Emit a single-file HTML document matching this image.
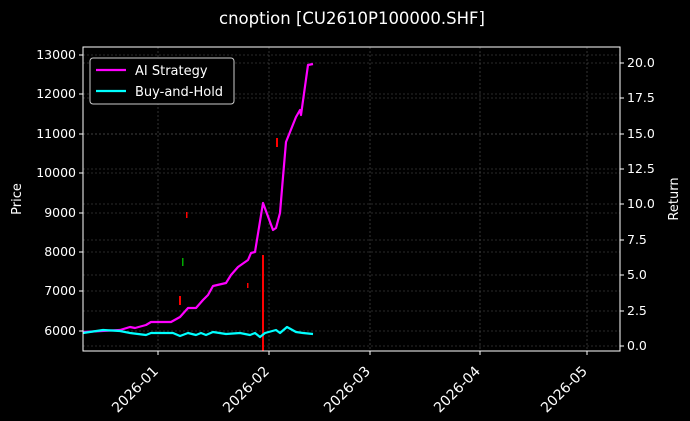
<!DOCTYPE html>
<html><head><meta charset="utf-8"><style>
html,body{margin:0;padding:0;background:#000;}
svg{display:block;font-family:"DejaVu Sans","Liberation Sans",sans-serif;}
</style></head><body>
<svg width="690" height="421" viewBox="0 0 690 421" xmlns="http://www.w3.org/2000/svg">
<rect width="690" height="421" fill="#000"/>
<text x="352" y="24" fill="#fff" font-size="16.5" text-anchor="middle">cnoption [CU2610P100000.SHF]</text>
<g stroke="#555" stroke-width="0.6" stroke-dasharray="2,2">
<line x1="158" y1="47" x2="158" y2="351"/><line x1="269" y1="47" x2="269" y2="351"/><line x1="370" y1="47" x2="370" y2="351"/><line x1="480" y1="47" x2="480" y2="351"/><line x1="587" y1="47" x2="587" y2="351"/>
<line x1="83" y1="55" x2="620" y2="55"/><line x1="83" y1="94" x2="620" y2="94"/><line x1="83" y1="134" x2="620" y2="134"/><line x1="83" y1="173" x2="620" y2="173"/><line x1="83" y1="213" x2="620" y2="213"/><line x1="83" y1="252" x2="620" y2="252"/><line x1="83" y1="291" x2="620" y2="291"/><line x1="83" y1="331" x2="620" y2="331"/>
<line x1="83" y1="63" x2="620" y2="63"/><line x1="83" y1="98" x2="620" y2="98"/><line x1="83" y1="134" x2="620" y2="134"/><line x1="83" y1="169" x2="620" y2="169"/><line x1="83" y1="204" x2="620" y2="204"/><line x1="83" y1="240" x2="620" y2="240"/><line x1="83" y1="275" x2="620" y2="275"/><line x1="83" y1="311" x2="620" y2="311"/><line x1="83" y1="346" x2="620" y2="346"/>
</g>
<g fill="#f00">
<rect x="262" y="255" width="2" height="96"/>
<rect x="276" y="138" width="2" height="9"/>
<rect x="179" y="296" width="2" height="9"/>
<rect x="186" y="212" width="1.5" height="6"/>
<rect x="247" y="283" width="1.5" height="5"/>
</g>
<rect x="182" y="258" width="1.5" height="8" fill="#0a0"/>
<polyline fill="none" stroke="#f0f" stroke-width="2.2" stroke-linejoin="round" points="83,332 120,330 130,327 135,328 146,325 151,322 171,322 180,317 188,308 196,308 203,300 208,295 213,286 226,283 231,275 238,267 248,260 251,253 255,252 263,203 273,230 276,228 280,213 283,177 286,142 296,117 300,110 301,115 308,65 313,64"/>
<polyline fill="none" stroke="#0ff" stroke-width="2.2" stroke-linejoin="round" points="83,333 103,330 120,331 130,333 146,335 151,333 173,333 180,336 188,333 196,335 201,333 206,335 213,332 226,334 240,333 250,335 255,333 260,337 265,333 276,330 280,333 287,327 296,332 303,333 313,334"/>
<rect x="83" y="47" width="537" height="304" fill="none" stroke="#fff" stroke-width="1"/>
<g stroke="#fff" stroke-width="1">
<line x1="158" y1="351" x2="158" y2="355"/><line x1="269" y1="351" x2="269" y2="355"/><line x1="370" y1="351" x2="370" y2="355"/><line x1="480" y1="351" x2="480" y2="355"/><line x1="587" y1="351" x2="587" y2="355"/>
<line x1="79" y1="55" x2="83" y2="55"/><line x1="79" y1="94" x2="83" y2="94"/><line x1="79" y1="134" x2="83" y2="134"/><line x1="79" y1="173" x2="83" y2="173"/><line x1="79" y1="213" x2="83" y2="213"/><line x1="79" y1="252" x2="83" y2="252"/><line x1="79" y1="291" x2="83" y2="291"/><line x1="79" y1="331" x2="83" y2="331"/>
<line x1="620" y1="63" x2="624" y2="63"/><line x1="620" y1="98" x2="624" y2="98"/><line x1="620" y1="134" x2="624" y2="134"/><line x1="620" y1="169" x2="624" y2="169"/><line x1="620" y1="204" x2="624" y2="204"/><line x1="620" y1="240" x2="624" y2="240"/><line x1="620" y1="275" x2="624" y2="275"/><line x1="620" y1="311" x2="624" y2="311"/><line x1="620" y1="346" x2="624" y2="346"/>
</g>
<g fill="#fff" font-size="12.5" text-anchor="end">
<text x="76" y="59">13000</text><text x="76" y="98">12000</text><text x="76" y="138">11000</text><text x="76" y="177">10000</text><text x="76" y="217">9000</text><text x="76" y="256">8000</text><text x="76" y="295">7000</text><text x="76" y="335">6000</text>
</g>
<g fill="#fff" font-size="12.5">
<text x="627" y="67">20.0</text><text x="627" y="102">17.5</text><text x="627" y="138">15.0</text><text x="627" y="173">12.5</text><text x="627" y="208">10.0</text><text x="627" y="244">7.5</text><text x="627" y="279">5.0</text><text x="627" y="315">2.5</text><text x="627" y="350">0.0</text>
</g>
<g fill="#fff" font-size="14" text-anchor="end">
<text transform="translate(159,372) rotate(-45)">2026-01</text>
<text transform="translate(270,372) rotate(-45)">2026-02</text>
<text transform="translate(371,372) rotate(-45)">2026-03</text>
<text transform="translate(481,372) rotate(-45)">2026-04</text>
<text transform="translate(588,372) rotate(-45)">2026-05</text>
</g>
<text transform="translate(21,199) rotate(-90)" fill="#fff" font-size="13" text-anchor="middle">Price</text>
<text transform="translate(678,199) rotate(-90)" fill="#fff" font-size="13" text-anchor="middle">Return</text>
<rect x="90" y="58" width="144" height="46" rx="3" fill="#000" stroke="#ccc" stroke-width="1"/>
<line x1="96" y1="70" x2="126" y2="70" stroke="#f0f" stroke-width="2.2"/>
<line x1="96" y1="91" x2="126" y2="91" stroke="#0ff" stroke-width="2.2"/>
<text x="135" y="75" fill="#fff" font-size="13">AI Strategy</text>
<text x="135" y="96" fill="#fff" font-size="13">Buy-and-Hold</text>
</svg>
</body></html>
